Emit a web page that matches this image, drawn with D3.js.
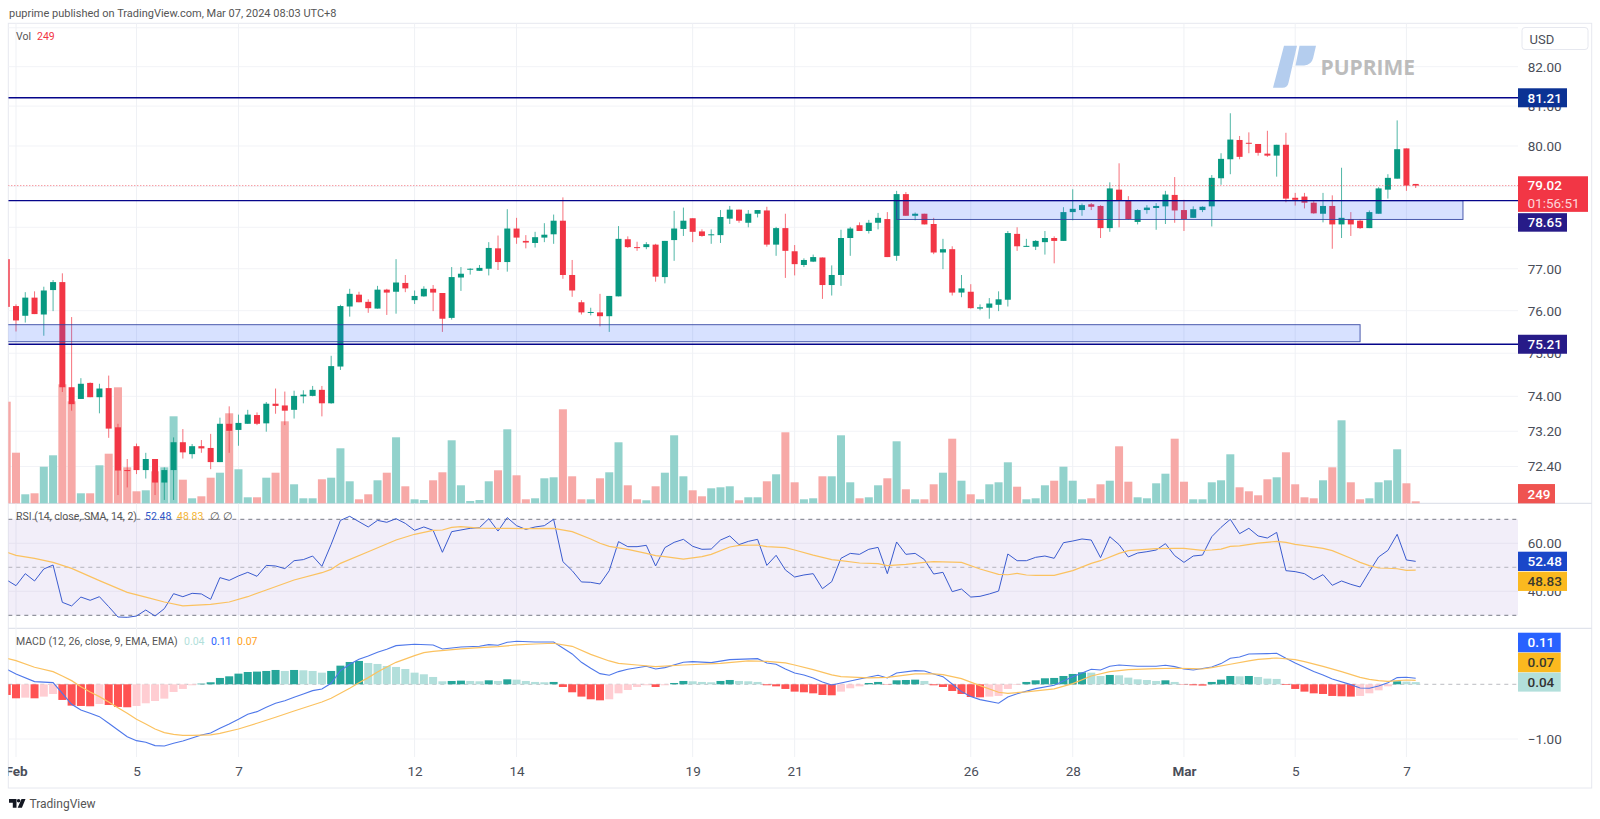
<!DOCTYPE html>
<html>
<head>
<meta charset="utf-8">
<script src="https://cdn.jsdelivr.net/npm/d3@7/dist/d3.min.js"></script>
<style>
  html, body { margin: 0; background: #fff; }
  text { font-family: Roboto, sans-serif; }
</style>
</head>
<body>
<svg id="chart" width="1600" height="819"></svg>
<script>
// 2h candles, Feb 1 to Mar 7
const opens = [
  77.23,76.11,75.88,76.31,75.91,76.49,76.68,74.21,73.94,74.31,
  73.98,74.19,73.29,72.32,72.86,72.32,72.57,72.04,72.32,72.95,
  72.68,72.86,72.82,72.50,73.37,73.23,73.37,73.57,73.38,73.83,
  73.79,73.69,74.00,74.01,74.15,73.84,74.69,76.10,76.38,76.21,
  76.05,76.50,76.45,76.66,76.25,76.34,76.52,76.42,75.83,76.79,
  76.98,76.95,77.00,77.49,77.16,77.97,77.67,77.62,77.75,77.83,
  78.16,76.85,76.20,75.96,75.96,75.87,76.34,77.71,77.52,77.52,
  77.58,76.80,77.69,77.96,78.22,77.90,77.81,77.81,78.21,78.43,
  78.11,78.33,78.41,77.58,77.98,77.42,77.09,77.17,77.27,76.61,
  76.85,77.74,78.05,77.91,78.11,78.20,77.31,78.81,78.28,78.33,
  78.08,77.39,77.47,76.43,76.45,76.05,76.07,76.14,76.26,77.84,
  77.53,77.53,77.64,77.74,77.67,78.37,78.42,78.56,78.52,77.98,
  78.92,78.66,78.13,78.42,78.47,78.51,78.79,78.42,78.23,78.42,
  78.51,79.20,79.67,80.15,80.08,80.05,79.81,79.76,80.03,78.72,
  78.75,78.60,78.33,78.52,78.07,78.20,78.16,77.98,78.33,78.92,
  79.19,79.94,79.06
];
const highs = [
  77.23,76.15,76.44,76.46,76.57,76.73,76.89,75.85,74.42,74.32,
  74.29,74.48,73.37,72.57,72.92,72.71,72.57,72.38,73.06,73.25,
  72.91,73.00,73.14,73.51,73.77,73.58,73.69,73.63,73.87,74.18,
  74.11,74.13,74.14,74.24,74.24,74.94,76.14,76.52,76.45,76.27,
  76.59,76.52,77.23,76.85,76.48,76.58,76.61,76.42,77.04,77.04,
  77.01,77.09,77.64,77.80,78.44,78.23,77.81,77.89,78.10,78.31,
  78.73,77.21,76.25,76.07,76.40,76.35,78.03,77.78,77.65,77.64,
  77.60,77.67,78.40,78.48,78.22,77.95,77.95,78.42,78.52,78.43,
  78.42,78.42,78.50,78.01,78.33,77.57,77.25,77.34,77.27,77.08,
  77.94,78.01,78.12,78.18,78.35,78.37,78.89,78.86,78.36,78.33,
  78.23,77.72,77.54,76.85,76.63,76.15,76.30,76.46,77.91,78.00,
  77.72,77.69,77.91,77.78,78.49,78.93,78.58,78.59,78.54,79.10,
  79.57,78.76,78.44,78.54,78.59,78.89,79.23,78.67,78.51,78.51,
  79.28,79.82,80.82,80.25,80.34,80.05,80.38,80.03,80.33,78.84,
  78.84,78.64,78.84,78.78,79.46,78.37,78.20,78.41,78.98,79.30,
  80.64,79.94,79.06
];
const lows = [
  76.09,75.51,75.72,75.92,75.41,75.99,74.10,73.67,73.94,73.98,
  73.61,73.05,71.76,71.93,72.23,72.13,71.76,71.65,71.65,72.58,
  72.58,72.71,72.34,72.50,72.71,72.87,73.37,73.34,73.19,73.60,
  73.34,73.49,73.84,74.00,73.54,73.83,74.61,75.86,76.20,75.95,
  76.05,75.90,75.93,76.44,76.16,76.33,75.99,75.50,75.79,76.47,
  76.86,76.95,76.84,76.97,76.93,77.60,77.49,77.51,77.64,77.60,
  76.76,76.33,75.91,75.89,75.63,75.50,76.34,77.50,77.43,77.47,
  76.69,76.65,77.19,77.79,77.64,77.77,77.60,77.62,78.08,78.11,
  78.00,78.24,77.53,77.31,76.78,76.84,77.04,77.16,76.28,76.36,
  76.59,77.31,77.91,77.85,77.95,77.28,77.19,78.28,78.17,78.07,
  77.35,76.99,76.36,76.32,76.05,76.01,75.81,75.99,76.10,77.43,
  77.53,77.45,77.34,77.13,77.67,78.17,78.28,78.42,77.74,77.89,
  78.00,78.18,78.07,78.33,77.94,78.08,78.11,77.91,78.23,78.37,
  78.02,79.04,79.30,79.67,79.82,79.76,79.73,79.24,78.61,78.53,
  78.46,78.33,78.12,77.48,77.74,77.79,77.96,77.98,78.33,78.70,
  79.19,78.89,78.96
];
const closes = [
  76.09,75.77,76.31,75.92,76.48,76.68,74.21,73.82,74.29,73.98,
  74.18,73.26,72.31,72.31,72.32,72.57,72.04,72.32,72.95,72.72,
  72.86,72.81,72.50,73.37,73.21,73.39,73.58,73.37,73.83,73.78,
  73.67,74.01,74.04,74.15,73.84,74.70,76.11,76.40,76.20,76.06,
  76.50,76.43,76.67,76.53,76.35,76.52,76.43,75.81,76.80,76.88,
  77.00,77.02,77.50,77.16,77.97,77.75,77.63,77.76,77.82,78.16,
  76.85,76.48,75.96,75.97,75.87,76.35,77.72,77.52,77.51,77.59,
  76.81,77.67,77.97,78.16,77.89,77.79,77.83,78.25,78.43,78.16,
  78.33,78.42,77.58,77.98,77.43,77.11,77.21,77.28,76.61,76.85,
  77.74,77.97,77.91,78.11,78.23,77.28,78.81,78.28,78.33,78.07,
  77.39,77.47,76.43,76.53,76.06,76.08,76.17,76.27,77.86,77.54,
  77.55,77.67,77.74,77.67,78.37,78.45,78.54,78.50,77.98,78.95,
  78.66,78.20,78.42,78.48,78.52,78.80,78.41,78.20,78.44,78.50,
  79.21,79.68,80.16,79.73,80.06,79.83,79.76,80.03,78.70,78.67,
  78.60,78.34,78.52,78.07,78.23,78.07,77.98,78.37,78.95,79.21,
  79.92,79.02,79.02
];
const volumes = [
  12700,6325,1125,1250,4575,6000,14875,12750,1250,1250,
  4750,6200,14500,4500,1500,1625,4000,4500,10875,2950,
  625,875,3200,3825,11250,4250,750,750,3200,3825,
  10250,2375,625,625,3000,3200,6875,2750,500,1125,
  2875,3825,8250,2125,500,410,2875,3875,7875,2250,
  290,410,2750,4125,9250,3500,500,625,3125,3250,
  11750,3375,500,500,3125,3875,7625,2250,500,375,
  2125,3825,8500,3375,1625,875,1875,2000,2125,375,
  750,750,2750,3625,8875,2625,500,625,3375,3375,
  8500,2625,625,750,2250,3125,7750,1750,500,500,
  2375,3825,8075,2825,1125,500,2375,2625,5125,2075,
  500,625,2250,2825,4575,2825,500,625,2375,2825,
  7125,2700,750,625,2500,3700,8075,2700,500,500,
  2625,2875,6125,2000,1500,1000,3000,3250,6375,2375,
  750,625,2875,4500,10375,2625,500,625,2625,2875,
  6750,2500,249
];
const rsi = [
  44.7,42.35,47.35,44.3,49.3,50.95,35.4,33.9,37.6,36.25,
  37.75,33.6,29.3,29.15,29.7,32.2,29.7,32.75,39.0,37.75,
  39.15,38.9,36.65,45.7,44.55,46.4,47.9,46.25,50.8,50.55,
  49.45,52.75,53.2,54.7,50.4,59.55,69.55,71.25,69.0,66.8,
  69.55,68.75,70.25,68.3,65.4,66.8,65.4,56.25,64.85,65.55,
  66.25,66.5,70.25,65.1,70.7,67.35,65.8,66.8,67.35,70.0,
  52.35,48.6,43.9,43.75,43.05,48.6,60.7,58.6,58.6,59.15,
  50.55,58.2,60.4,61.65,58.75,57.5,57.6,61.35,63.05,59.45,
  60.8,61.65,50.8,55.0,48.9,45.95,46.8,47.35,41.1,44.0,
  53.75,55.8,55.4,57.5,58.3,47.35,60.55,55.4,55.8,53.2,
  47.2,47.9,39.85,40.95,37.6,37.9,38.9,40.1,55.55,52.75,
  52.75,54.15,54.7,53.75,60.25,60.95,61.8,61.35,54.0,62.75,
  59.45,54.3,55.95,56.5,57.2,59.85,54.85,52.05,54.7,55.1,
  62.75,66.65,70.0,64.0,66.25,63.05,62.2,64.55,48.6,48.2,
  47.35,44.85,46.95,42.5,44.3,42.9,41.8,48.2,54.3,57.05,
  63.75,53.05,52.48
];
const rsiMaIdx = [0,1,3,5,7,10,13,15,17,19,22,24,26,28,31,34,35,36,39,42,44,46,47,48,49,51,53,56,59,61,63,64,65,67,69,70,71,73,75,76,78,79,81,82,84,85,87,89,90,92,94,95,97,99,100,103,105,107,108,109,110,111,113,115,117,118,120,121,124,126,127,129,130,131,132,133,135,137,138,139,140,142,143,145,146,147,148,149,150,151,152];
const rsiMaVal = [56.25,55.0,53.75,52.05,49.55,44.45,39.55,37.6,35.55,33.9,34.55,35.55,37.75,40.55,44.7,47.75,49.15,51.65,56.5,61.4,63.75,65.4,65.55,66.65,66.95,66.35,66.25,66.1,66.25,64.85,61.8,60.0,58.75,57.5,55.8,54.85,54.45,53.45,54.45,55.4,58.45,59.15,59.3,58.6,58.2,57.2,55.1,53.2,52.75,51.8,51.5,50.7,51.25,52.05,52.35,52.05,49.3,47.05,46.9,47.5,46.8,46.65,46.65,48.6,51.65,52.75,55.8,56.95,57.75,57.9,57.9,57.05,57.2,57.6,58.75,58.9,60.1,60.8,60.4,59.55,59.0,57.9,56.95,53.75,52.05,50.7,49.7,49.6,49.4,48.75,48.83];
const macdIdx = [0,1,3,5,6,7,8,9,10,11,12,13,14,15,16,17,18,19,20,21,22,23,24,25,26,27,28,29,30,31,32,33,34,35,36,37,38,39,40,41,42,44,46,47,49,51,52,53,54,55,57,59,61,62,63,64,65,66,67,69,70,71,73,74,76,78,81,82,83,84,85,86,87,88,89,90,92,94,95,96,98,99,100,101,102,103,104,105,107,108,109,111,113,115,116,117,118,119,120,122,124,125,126,127,128,130,131,132,133,134,136,137,138,139,141,142,143,145,146,147,148,149,150,151,152];
const macdVal = [0.274,0.189,0.049,0.03,-0.165,-0.366,-0.469,-0.53,-0.591,-0.713,-0.835,-0.957,-1.03,-1.06,-1.121,-1.127,-1.079,-1.036,-0.981,-0.926,-0.89,-0.804,-0.725,-0.64,-0.548,-0.5,-0.42,-0.347,-0.299,-0.238,-0.177,-0.116,-0.085,0.018,0.25,0.366,0.457,0.518,0.585,0.64,0.707,0.731,0.719,0.646,0.683,0.695,0.725,0.713,0.768,0.786,0.774,0.774,0.555,0.402,0.293,0.195,0.165,0.232,0.274,0.329,0.28,0.305,0.402,0.414,0.396,0.451,0.469,0.39,0.366,0.28,0.207,0.171,0.116,0.043,-0.012,0.024,0.098,0.165,0.116,0.207,0.25,0.244,0.189,0.14,0.006,-0.134,-0.225,-0.28,-0.347,-0.232,-0.171,-0.079,-0.018,0.14,0.207,0.274,0.262,0.329,0.353,0.329,0.329,0.347,0.323,0.28,0.262,0.317,0.378,0.475,0.5,0.555,0.561,0.567,0.475,0.39,0.232,0.171,0.098,-0.006,-0.067,-0.073,-0.03,0.03,0.122,0.128,0.11];
const signalIdx = [0,1,3,5,6,7,8,9,10,11,12,13,14,15,16,17,18,19,20,22,23,25,27,29,31,33,34,35,36,37,38,39,40,41,42,44,45,46,49,51,53,55,57,59,61,63,65,66,68,70,73,77,80,82,84,85,87,89,90,93,95,98,100,101,103,105,107,108,110,113,115,117,119,121,124,126,128,129,130,132,134,135,137,139,140,142,144,146,147,148,149,151,152];
const signalVal = [0.475,0.433,0.311,0.232,0.152,0.067,-0.043,-0.14,-0.225,-0.323,-0.427,-0.53,-0.64,-0.725,-0.817,-0.884,-0.914,-0.932,-0.932,-0.926,-0.896,-0.817,-0.713,-0.603,-0.488,-0.378,-0.323,-0.256,-0.165,-0.073,0.03,0.122,0.225,0.317,0.402,0.524,0.579,0.603,0.646,0.67,0.689,0.719,0.737,0.75,0.695,0.548,0.427,0.384,0.353,0.323,0.353,0.384,0.427,0.42,0.39,0.353,0.268,0.171,0.14,0.116,0.128,0.189,0.189,0.177,0.104,-0.024,-0.146,-0.165,-0.14,-0.085,0.012,0.152,0.232,0.268,0.286,0.293,0.286,0.28,0.305,0.366,0.427,0.457,0.481,0.451,0.414,0.329,0.232,0.128,0.091,0.067,0.055,0.079,0.07];
const macdHist = [
  -0.195,-0.256,-0.244,-0.256,-0.225,-0.177,-0.286,-0.39,-0.396,-0.402,
  -0.36,-0.378,-0.414,-0.42,-0.396,-0.347,-0.305,-0.262,-0.14,-0.085,
  -0.018,0.012,0.037,0.116,0.146,0.195,0.225,0.232,0.244,0.262,
  0.244,0.262,0.256,0.244,0.213,0.244,0.341,0.408,0.427,0.39,
  0.372,0.335,0.317,0.28,0.213,0.183,0.134,0.055,0.061,0.067,
  0.061,0.055,0.073,0.061,0.091,0.085,0.061,0.043,0.037,0.043,
  -0.049,-0.146,-0.225,-0.274,-0.293,-0.274,-0.165,-0.104,-0.049,-0.018,
  -0.049,-0.018,0.024,0.061,0.055,0.043,0.037,0.061,0.079,0.061,
  0.055,0.043,-0.018,-0.037,-0.085,-0.134,-0.146,-0.165,-0.195,-0.201,
  -0.134,-0.073,-0.037,0.024,0.043,-0.006,0.073,0.079,0.085,0.061,
  -0.018,-0.049,-0.122,-0.177,-0.232,-0.238,-0.225,-0.213,-0.085,-0.012,
  0.043,0.073,0.11,0.116,0.152,0.189,0.219,0.213,0.152,0.171,
  0.165,0.122,0.091,0.079,0.061,0.073,0.043,-0.006,-0.018,-0.024,
  0.043,0.085,0.152,0.146,0.152,0.134,0.104,0.098,-0.012,-0.085,
  -0.134,-0.165,-0.177,-0.213,-0.219,-0.225,-0.213,-0.165,-0.11,-0.037,
  0.055,0.049,0.04
];

const dateIdx = [1,14,25,44,55,74,85,104,115,127,139,151];
const dateLabels = ["Feb","5","7","12","14","19","21","26","28","Mar","5","7"];
const priceTicks = [82,81,80,77,76,75,74,73.2,72.4];
const priceGrid = [83,82,81,80,79,78,77,76,75,74,73.2,72.4];
const rsiTicks = [60,40];
const macdTicks = [-1];
const levels = [81.21,78.65,75.21];
const zones = [
  { from: 96, to: 157.1, top: 78.65, bottom: 78.19 },
  { from: -1, to: 146, top: 75.67, bottom: 75.27 }
];
const lastPrice = 79.02;
const countdown = "01:56:51";

const frameLeft = 8.3, axisX = 1518, frameRight = 1591.7, frameTop = 23.3, frameBottom = 788;
const volBase = 503.3, rsiSep = 628.3, paneEnd = 757;

const green = "#089981", red = "#f23645";
const svg = d3.select("#chart");

const x = d3.scaleLinear().domain([0, 152]).range([6.73, 1415.7]);
const y = d3.scaleLog().domain([82, 76]).range([66.7, 310.7]);
const volY = d3.scaleLinear().domain([0, 12500]).range([volBase, volBase - 100]);
const rsiY = d3.scaleLinear().domain([70, 30]).range([519.3, 615.3]);
const macdY = d3.scaleLinear().domain([0, -1]).range([684.3, 739]);

// frame and separators
svg.append("rect").attr("x", frameLeft).attr("y", frameTop).attr("width", frameRight - frameLeft).attr("height", frameBottom - frameTop)
  .attr("fill", "#fff").attr("stroke", "#e6e8ef");
[volBase, rsiSep].forEach(v => svg.append("line").attr("x1", frameLeft).attr("x2", frameRight).attr("y1", v).attr("y2", v)
  .attr("stroke", "#e0e3eb").attr("stroke-width", 1.2));

const defs = svg.append("defs");
defs.append("clipPath").attr("id", "plot").append("rect")
  .attr("x", frameLeft).attr("y", frameTop).attr("width", axisX - frameLeft).attr("height", frameBottom - frameTop);
defs.append("clipPath").attr("id", "dates").append("rect")
  .attr("x", frameLeft).attr("y", 0).attr("width", axisX - frameLeft).attr("height", 40);
const plot = svg.append("g").attr("clip-path", "url(#plot)");

// grid
plot.append("g").selectAll("line").data(priceGrid).enter().append("line")
  .attr("x1", frameLeft).attr("x2", axisX).attr("y1", d => y(d)).attr("y2", d => y(d))
  .attr("stroke", "#f2f3f7");
plot.append("g").selectAll("line").data(dateIdx).enter().append("line")
  .attr("x1", d => x(d)).attr("x2", d => x(d)).attr("y1", frameTop).attr("y2", paneEnd)
  .attr("stroke", "#eff1f5");

// logo, sits behind the candles
const logo = svg.append("g");
logo.append("path").attr("fill", "#b4cdee")
  .attr("d", "M1284 45.7h13l-8.5 37q-1 5-6 5h-9.5zM1299.5 45.7h16.5l-2.8 12q-1.6 7-9 7.8h-8.7z");
logo.append("text").attr("x", 1320.5).attr("y", 75).attr("font-size", 21).attr("font-weight", 700)
  .attr("fill", "#bcbcbc").style("font-family", "'Open Sans', sans-serif").text("PUPRIME");

// volume
plot.append("g").selectAll("rect").data(volumes).enter().append("rect")
  .attr("x", (d, i) => x(i) - 4).attr("width", 8)
  .attr("y", d => volY(d)).attr("height", d => volBase - volY(d))
  .attr("fill", (d, i) => closes[i] >= opens[i] ? "#92d2cc" : "#f7a9a7");

// candles
const candle = plot.append("g").selectAll("g").data(opens).enter().append("g")
  .attr("fill", (d, i) => closes[i] >= opens[i] ? green : red);
candle.append("rect")
  .attr("x", (d, i) => x(i) - 0.5).attr("width", 1)
  .attr("y", (d, i) => y(highs[i])).attr("height", (d, i) => y(lows[i]) - y(highs[i]))
  .attr("opacity", 0.7);
candle.append("rect")
  .attr("x", (d, i) => x(i) - 3).attr("width", 6)
  .attr("y", (d, i) => y(Math.max(opens[i], closes[i])))
  .attr("height", (d, i) => Math.max(1, Math.abs(y(opens[i]) - y(closes[i]))));

// zones on top of the candles
plot.append("g").selectAll("rect").data(zones).enter().append("rect")
  .attr("x", d => x(d.from)).attr("width", d => x(d.to) - x(d.from))
  .attr("y", d => y(d.top)).attr("height", d => y(d.bottom) - y(d.top))
  .attr("fill", "#2962ff").attr("fill-opacity", 0.19)
  .attr("stroke", "#2f429f").attr("stroke-opacity", 0.85);

// level lines and last price
plot.append("g").selectAll("line").data(levels).enter().append("line")
  .attr("x1", frameLeft).attr("x2", axisX).attr("y1", d => y(d)).attr("y2", d => y(d))
  .attr("stroke", "#05058a").attr("stroke-width", 1.4);
plot.append("line").attr("x1", frameLeft).attr("x2", axisX).attr("y1", y(lastPrice)).attr("y2", y(lastPrice))
  .attr("stroke", red).attr("stroke-opacity", 0.7).attr("stroke-dasharray", "1 2");

// RSI pane
plot.append("rect").attr("x", frameLeft).attr("width", axisX - frameLeft)
  .attr("y", rsiY(70)).attr("height", rsiY(30) - rsiY(70)).attr("fill", "#7e57c2").attr("fill-opacity", 0.1);
plot.append("g").selectAll("line").data(rsiTicks).enter().append("line")
  .attr("x1", frameLeft).attr("x2", axisX).attr("y1", d => rsiY(d)).attr("y2", d => rsiY(d)).attr("stroke", "#e6e3f0");
plot.append("g").selectAll("line").data([70, 50, 30]).enter().append("line")
  .attr("x1", frameLeft).attr("x2", axisX).attr("y1", d => rsiY(d)).attr("y2", d => rsiY(d))
  .attr("stroke", "#787b86").attr("stroke-opacity", d => d === 50 ? 0.5 : 1).attr("stroke-dasharray", "4 4");
plot.append("path").datum(rsi).attr("fill", "none").attr("stroke", "#3a5bcf").attr("stroke-width", 1)
  .attr("d", d3.line().x((d, i) => x(i)).y(d => rsiY(d)));
plot.append("path").datum(rsiMaVal).attr("fill", "none").attr("stroke", "#fbc260").attr("stroke-width", 1.2)
  .attr("d", d3.line().x((d, i) => x(rsiMaIdx[i])).y(d => rsiY(d)));

// MACD pane
plot.append("line").attr("x1", frameLeft).attr("x2", axisX).attr("y1", macdY(-1)).attr("y2", macdY(-1)).attr("stroke", "#f2f3f7");
plot.append("line").attr("x1", frameLeft).attr("x2", axisX).attr("y1", macdY(0)).attr("y2", macdY(0))
  .attr("stroke", "#787b86").attr("stroke-opacity", 0.5).attr("stroke-dasharray", "4 4");
plot.append("g").selectAll("rect").data(macdHist).enter().append("rect")
  .attr("x", (d, i) => x(i) - 4).attr("width", 8)
  .attr("y", d => Math.min(macdY(d), macdY(0)))
  .attr("height", d => Math.abs(macdY(d) - macdY(0)))
  .attr("fill", (d, i) => {
    const prev = i ? macdHist[i - 1] : d;
    if (d >= 0) return prev < d ? "#26a69a" : "#b2dfdb";
    return prev < d ? "#ffcdd2" : "#ff5252";
  });
plot.append("path").datum(macdVal).attr("fill", "none").attr("stroke", "#4f78ea").attr("stroke-width", 1.1)
  .attr("d", d3.line().x((d, i) => x(macdIdx[i])).y(d => macdY(d)));
plot.append("path").datum(signalVal).attr("fill", "none").attr("stroke", "#fbc260").attr("stroke-width", 1.2)
  .attr("d", d3.line().x((d, i) => x(signalIdx[i])).y(d => macdY(d)));

// axes
const axisColor = "#4a4e59";
function styleAxis(g) {
  g.select(".domain").remove();
  g.selectAll("text").attr("fill", axisColor).style("font-size", "13.5px");
}
const rightAxis = (scale, ticks) => d3.axisRight(scale).tickValues(ticks).tickFormat(d3.format(".2f")).tickSize(0).tickPadding(9.7);
svg.append("g").attr("transform", `translate(${axisX},0)`).call(rightAxis(y, priceTicks)).call(styleAxis);
svg.append("g").attr("transform", `translate(${axisX},0)`).call(rightAxis(rsiY, rsiTicks)).call(styleAxis);
svg.append("g").attr("transform", `translate(${axisX},0)`).call(rightAxis(macdY, macdTicks)).call(styleAxis);

const dateAxis = svg.append("g").attr("transform", `translate(0,${paneEnd})`).attr("clip-path", "url(#dates)")
  .call(d3.axisBottom(x).tickValues(dateIdx).tickFormat((d, i) => dateLabels[i]).tickSize(0).tickPadding(9))
  .call(styleAxis);
dateAxis.selectAll("text").attr("font-weight", (d, i) => /[A-Z]/.test(dateLabels[i]) ? 700 : 400);

// value tags on the price scale
function tag(cy, w, h, fill, color, label) {
  svg.append("rect").attr("x", axisX).attr("y", cy - h / 2).attr("width", w).attr("height", h).attr("fill", fill);
  return svg.append("text").attr("x", axisX + 9.5).attr("y", cy).attr("dy", "0.36em")
    .attr("fill", color).attr("font-size", 13.5).attr("font-weight", 500).text(label);
}
tag(y(levels[0]), 49, 19, "#0b3294", "#fff", levels[0].toFixed(2));
tag(y(levels[2]), 49, 19, "#271b88", "#fff", levels[2].toFixed(2));
tag(y(levels[1]) + 21.8, 49, 18.5, "#271b88", "#fff", levels[1].toFixed(2));
tag(y(lastPrice) + 8.5, 70, 35.6, red, "#fff", lastPrice.toFixed(2)).attr("y", y(lastPrice));
svg.append("text").attr("x", axisX + 9.5).attr("y", y(lastPrice) + 17.5).attr("dy", "0.36em")
  .attr("fill", "#fff").attr("fill-opacity", 0.8).attr("font-size", 13.5).text(countdown);
tag(volBase - 9.6, 37, 19.3, "#ef5350", "#fff", volumes[152]);
tag(rsiY(rsi[152]), 49, 19.3, "#1a47c9", "#fff", rsi[152].toFixed(2));
tag(rsiY(rsiMaVal[rsiMaVal.length - 1]) + 11.2, 49, 19.3, "#fbb91f", "#3a3a2e", "48.83");
tag(macdY(0.04) - 39.6, 42.7, 19.6, "#2962ff", "#fff", "0.11");
tag(macdY(0.04) - 19.6, 42.7, 19.6, "#fbb91f", "#3a3a2e", "0.07");
tag(macdY(0.04), 42.7, 19, "#b2dfdb", "#333", "0.04");

// USD button
svg.append("rect").attr("x", 1522).attr("y", 27.5).attr("width", 66).attr("height", 22).attr("rx", 3)
  .attr("fill", "#fff").attr("stroke", "#e6e8ef");
svg.append("text").attr("x", 1529.5).attr("y", 39).attr("dy", "0.36em").attr("font-size", 13).attr("fill", axisColor).text("USD");

// legends
function legend(yPos, parts) {
  parts.forEach(p => svg.append("text").attr("x", p[0]).attr("y", yPos).attr("dy", "0.36em")
    .attr("font-size", 10.5).attr("fill", p[2]).text(p[1]));
}
legend(36, [[16, "Vol", "#555"], [37, "249", "#f23645"]]);
legend(516.7, [[16, "RSI (14, close, SMA, 14, 2)", "#555"], [145, "52.48", "#3157c8"], [177, "48.83", "#f5b73a"], [210, "∅", "#555"], [223, "∅", "#555"]]);
legend(641.7, [[16, "MACD (12, 26, close, 9, EMA, EMA)", "#555"], [184, "0.04", "#b2dfdb"], [211, "0.11", "#2962ff"], [237, "0.07", "#ff9f1a"]]);

// header and footer
svg.append("text").attr("x", 9).attr("y", 13.3).attr("dy", "0.36em").attr("font-size", 11).attr("fill", "#555")
  .text("puprime published on TradingView.com, Mar 07, 2024 08:03 UTC+8");
svg.append("path").attr("fill", "#131722").attr("d", "M9 799h7.5v8.7h-3.7v-5H9zM21.5 799h4l-3.6 8.7h-4.2z");
svg.append("circle").attr("cx", 18.6).attr("cy", 800.8).attr("r", 1.8).attr("fill", "#131722");
svg.append("text").attr("x", 29.5).attr("y", 803.5).attr("dy", "0.36em").attr("font-size", 12).attr("fill", "#555").text("TradingView");
</script>
</body>
</html>
